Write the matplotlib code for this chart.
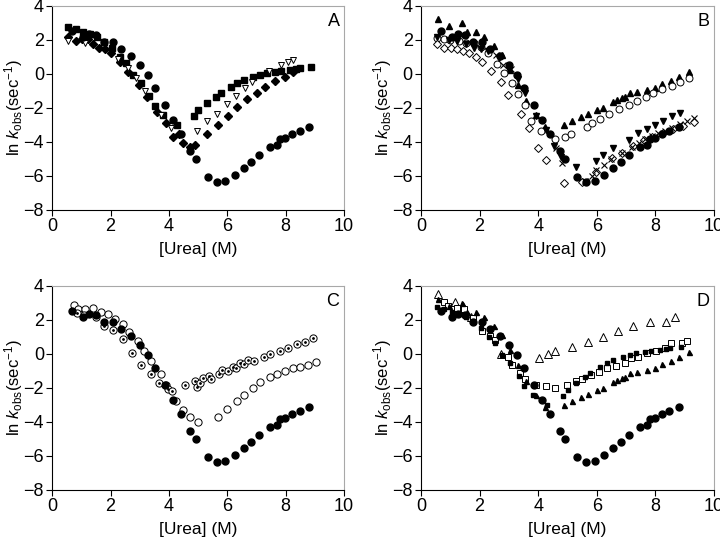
import matplotlib
matplotlib.use("Agg")
import matplotlib.pyplot as plt

plt.rcParams['font.family'] = ['Liberation Sans', 'DejaVu Sans']
plt.rcParams['mathtext.fontset'] = 'custom'
plt.rcParams['mathtext.rm'] = 'Liberation Sans'
plt.rcParams['mathtext.it'] = 'Liberation Sans:italic'

# wild type, filled circles (same in every panel)
wt_x = [0.69, 1.06, 1.27, 1.49, 1.78, 2.09, 2.36, 2.69, 3.01, 3.28, 3.53, 3.86, 4.13, 4.41,
        4.73, 4.92, 5.33, 5.64, 5.94, 6.25, 6.56, 6.81, 7.10, 7.47, 7.71, 7.80, 7.98, 8.22, 8.48, 8.79]
wt_y = [2.53, 2.18, 2.34, 2.28, 1.88, 1.88, 1.45, 1.06, 0.51, -0.06, -0.84, -1.80, -2.71, -3.55,
        -4.53, -5.02, -6.08, -6.37, -6.31, -5.94, -5.55, -5.16, -4.75, -4.31, -4.19, -3.84, -3.76,
        -3.55, -3.34, -3.14]

# panel A
a_sq_x = [0.53, 0.80, 1.06, 1.29, 1.54, 1.78, 2.06, 2.32, 2.53, 2.78, 3.03, 3.33, 3.52, 3.81, 4.29,
          4.85, 5.01, 5.29, 5.61, 5.78, 6.12, 6.34, 6.56, 6.90, 7.13, 7.35, 7.63, 7.86, 8.15, 8.35, 8.50, 8.88]
a_sq_y = [2.78, 2.63, 2.45, 2.33, 2.20, 1.86, 1.52, 1.00, 0.63, -0.08, -0.55, -1.30, -1.90, -2.43, -3.02,
          -2.50, -2.12, -1.73, -1.36, -1.10, -0.75, -0.51, -0.36, -0.18, -0.06, 0.06, 0.12, 0.16, 0.24, 0.31, 0.38, 0.42]
a_di_x = [0.55, 0.80, 1.01, 1.23, 1.41, 1.60, 1.81, 2.00, 2.33, 2.61, 2.97, 3.25, 3.58, 3.90, 4.15, 4.35,
          4.49, 4.72, 4.89, 5.29, 5.67, 6.01, 6.34, 6.69, 7.02, 7.30, 7.65, 7.97, 8.26]
a_di_y = [2.19, 1.96, 2.06, 2.06, 1.78, 1.51, 1.45, 1.22, 0.69, 0.14, -0.65, -1.35, -2.22, -2.90, -3.69, -3.55,
          -4.04, -4.30, -4.18, -3.53, -3.03, -2.47, -1.96, -1.49, -1.09, -0.75, -0.43, -0.16, 0.09]
a_tri_x = [0.55, 1.12, 2.24, 2.58, 2.87, 3.18, 3.73, 4.07, 4.98, 5.29, 5.65, 5.98, 6.29, 6.61, 6.84,
           7.43, 7.84, 8.07, 8.24]
a_tri_y = [1.96, 1.85, 0.86, 0.33, -0.25, -1.00, -2.41, -3.16, -3.34, -2.75, -2.35, -1.75, -1.28, -0.82, -0.45,
           0.20, 0.50, 0.70, 0.82]

# panel B (up triangles also reused in D)
b_up_x = [0.58, 0.97, 1.40, 1.56, 1.87, 2.14, 2.48, 2.77, 3.05, 3.32, 3.59, 3.91, 4.22, 4.88, 5.16, 5.45,
          5.71, 6.00, 6.21, 6.56, 6.68, 6.85, 6.95, 7.13, 7.38, 7.72, 7.97, 8.24, 8.52, 8.81, 9.15]
b_up_y = [3.24, 2.80, 2.98, 2.49, 2.47, 2.16, 1.63, 1.10, 0.22, -0.65, -1.60, -2.41, -3.10, -2.98, -2.76, -2.51,
          -2.38, -2.13, -2.03, -1.66, -1.55, -1.43, -1.35, -1.14, -1.04, -0.95, -0.81, -0.57, -0.39, -0.16, 0.14]
b_oc_x = [0.55, 0.80, 1.00, 1.30, 1.55, 1.80, 2.05, 2.30, 2.60, 2.83, 3.10, 3.32, 3.55, 3.74, 4.08, 4.56,
          4.91, 5.12, 5.66, 5.83, 6.10, 6.43, 6.76, 7.10, 7.38, 7.67, 7.93, 8.24, 8.56, 8.84, 9.15]
b_oc_y = [2.10, 2.05, 2.00, 1.95, 1.85, 1.80, 1.60, 1.25, 0.57, 0.04, -0.55, -1.19, -1.82, -2.76, -3.35, -3.82,
          -3.70, -3.52, -3.10, -2.91, -2.64, -2.36, -2.07, -1.83, -1.58, -1.37, -1.14, -0.89, -0.68, -0.45, -0.23]
b_di_x = [0.56, 0.78, 1.01, 1.22, 1.44, 1.64, 1.87, 2.07, 2.38, 2.72, 2.97, 3.40, 3.69, 4.00, 4.28, 4.87,
          5.48, 5.98, 6.51, 6.85, 7.25, 7.61, 7.89, 8.26, 8.61, 8.93, 9.32]
b_di_y = [1.76, 1.55, 1.55, 1.47, 1.35, 1.22, 0.98, 0.72, 0.18, -0.49, -1.24, -2.34, -3.16, -4.34, -5.06, -6.43,
          -6.33, -5.75, -4.96, -4.63, -4.24, -3.88, -3.73, -3.45, -3.25, -3.06, -2.80]
b_dn_x = [0.55, 0.95, 1.24, 1.55, 1.80, 2.05, 2.30, 2.65, 3.02, 3.30, 3.55, 3.93, 4.25, 4.54, 4.78, 5.28,
          5.98, 6.20, 6.54, 7.10, 7.39, 7.70, 8.00, 8.27, 8.56, 8.84]
b_dn_y = [2.18, 2.00, 1.94, 1.75, 1.50, 1.47, 1.33, 0.95, 0.24, -0.30, -1.10, -2.45, -3.30, -4.22, -4.88, -5.47,
          -5.11, -4.74, -4.37, -3.90, -3.47, -3.21, -3.01, -2.76, -2.49, -2.27]
b_x_x = [2.55, 2.80, 3.08, 4.62, 4.82, 5.59, 5.85, 5.98, 6.25, 6.50, 6.85, 7.19, 7.45, 7.65, 7.87, 8.10,
         8.33, 8.58, 8.84, 9.09, 9.32]
b_x_y = [1.10, 0.55, 0.30, -4.37, -5.25, -6.27, -6.00, -5.65, -5.38, -5.00, -4.65, -4.27, -4.05, -3.85, -3.65,
         -3.49, -3.35, -3.19, -2.92, -2.75, -2.61]

# panel C
c_oc_x = [0.74, 0.89, 1.13, 1.39, 1.66, 1.92, 2.15, 2.42, 2.63, 2.95, 3.16, 3.40, 3.72, 4.25, 4.47, 4.71,
          4.99, 5.67, 6.00, 6.33, 6.56, 6.89, 7.12, 7.46, 7.69, 7.97, 8.24, 8.49, 8.78, 9.05]
c_oc_y = [2.87, 2.66, 2.62, 2.73, 2.47, 2.37, 2.08, 1.75, 1.32, 0.76, 0.18, -0.42, -1.18, -2.76, -3.27, -3.72,
          -4.00, -3.70, -3.22, -2.74, -2.39, -1.98, -1.66, -1.36, -1.17, -1.00, -0.85, -0.76, -0.66, -0.47]
c_dot_x = [0.86, 1.10, 1.50, 1.77, 2.07, 2.41, 2.72, 3.04, 3.38, 3.66, 3.90, 3.98, 4.11, 4.55, 4.88, 4.95,
           5.06, 5.18, 5.37, 5.45, 5.72, 5.82, 6.01, 6.19, 6.30, 6.45, 6.58, 6.71, 6.93, 7.26, 7.48, 7.82,
           8.10, 8.38, 8.66, 8.95]
c_dot_y = [2.43, 2.28, 2.18, 1.65, 1.41, 0.86, 0.08, -0.65, -1.16, -1.73, -1.82, -2.04, -2.20, -1.82, -1.60,
           -1.92, -1.73, -1.41, -1.28, -1.46, -1.18, -0.97, -1.00, -0.75, -0.80, -0.51, -0.61, -0.33, -0.43,
           -0.19, -0.02, 0.16, 0.36, 0.57, 0.71, 0.95]

# panel D
d_tri_x = [0.57, 1.15, 1.42, 1.70, 2.72, 4.03, 4.35, 4.59, 5.14, 5.69, 6.22, 6.73, 7.25, 7.81, 8.35, 8.68]
d_tri_y = [3.51, 3.03, 2.80, 2.19, 0.00, -0.25, -0.02, 0.18, 0.44, 0.72, 1.02, 1.37, 1.62, 1.86, 1.91, 2.20]
d_sq_x = [0.78, 0.92, 1.24, 1.47, 1.77, 2.09, 2.34, 2.53, 2.98, 3.12, 3.37, 3.55, 3.94, 4.26, 4.57, 4.99,
          5.28, 5.51, 5.79, 6.08, 6.36, 6.64, 6.95, 7.16, 7.41, 7.72, 8.03, 8.32, 8.52, 8.92, 9.09]
d_sq_y = [3.06, 2.82, 2.72, 2.66, 2.10, 1.35, 1.06, 0.82, -0.18, -0.66, -1.14, -1.49, -1.84, -1.88, -1.98,
          -1.82, -1.59, -1.49, -1.24, -1.04, -0.84, -0.71, -0.55, -0.25, -0.19, 0.04, 0.18, 0.33, 0.63, 0.66, 0.76]

fig = plt.figure(figsize=(7.2, 5.44), dpi=100)
boxes = {'A': [0.0726, 0.614, 0.405, 0.375], 'B': [0.5847, 0.614, 0.407, 0.375],
         'C': [0.0726, 0.0993, 0.405, 0.375], 'D': [0.5847, 0.0993, 0.407, 0.375]}
axes = {}
for k, b in boxes.items():
    ax = fig.add_axes(b)
    ax.set_xlim(0, 10)
    ax.set_ylim(-8, 4)
    ax.set_xticks(range(0, 11, 2))
    ax.set_yticks(range(-8, 5, 2))
    ax.tick_params(direction='out', length=4, width=0.8, labelsize=13, pad=2)
    for s in ['top', 'right']:
        ax.spines[s].set_color('#a8a8a8')
        ax.spines[s].set_linewidth(0.8)
    for s in ['left', 'bottom']:
        ax.spines[s].set_linewidth(0.8)
    ax.set_xlabel('[Urea] (M)', fontsize=12.5, labelpad=5)
    ax.set_ylabel(r'ln $k_{\mathrm{obs}}$(sec$^{-1}$)', fontsize=12)
    ax.yaxis.set_label_coords(-0.092, 0.5)
    ax.text(0.985, 0.965, k, transform=ax.transAxes, ha='right', va='top', fontsize=13)
    ax.plot(wt_x, wt_y, 'o', color='black', ms=5.0, ls='none', zorder=3)
    axes[k] = ax

ax = axes['A']
ax.plot(a_sq_x, a_sq_y, 's', color='black', ms=4.5, ls='none')
ax.plot(a_di_x, a_di_y, 'D', color='black', ms=4.0, ls='none')
ax.plot(a_tri_x, a_tri_y, 'v', mfc='white', mec='black', mew=0.7, ms=5.0, ls='none')

ax = axes['B']
ax.plot(b_up_x, b_up_y, '^', color='black', ms=4.8, ls='none')
ax.plot(b_oc_x, b_oc_y, 'o', mfc='white', mec='black', mew=0.7, ms=5.0, ls='none')
ax.plot(b_di_x, b_di_y, 'D', mfc='white', mec='black', mew=0.7, ms=4.2, ls='none')
ax.plot(b_dn_x, b_dn_y, 'v', color='black', ms=4.8, ls='none')
ax.plot(b_x_x, b_x_y, 'x', color='black', mew=0.8, ms=4.4, ls='none')

ax = axes['C']
ax.plot(c_oc_x, c_oc_y, 'o', mfc='white', mec='black', mew=0.7, ms=5.2, ls='none')
ax.plot(c_dot_x, c_dot_y, 'o', mfc='white', mec='black', mew=0.7, ms=5.2, ls='none')
ax.plot(c_dot_x, c_dot_y, '.', color='black', ms=2.0, ls='none')

ax = axes['D']
ax.plot(d_tri_x, d_tri_y, '^', mfc='white', mec='black', mew=0.7, ms=5.4, ls='none')
ax.plot(d_sq_x, d_sq_y, 's', mfc='white', mec='black', mew=0.7, ms=5.0, ls='none')
ax.plot(a_sq_x, a_sq_y, 's', color='black', ms=3.2, ls='none')
ax.plot(b_up_x, b_up_y, '^', color='black', ms=3.6, ls='none')

fig.savefig('out.png', dpi=100)
